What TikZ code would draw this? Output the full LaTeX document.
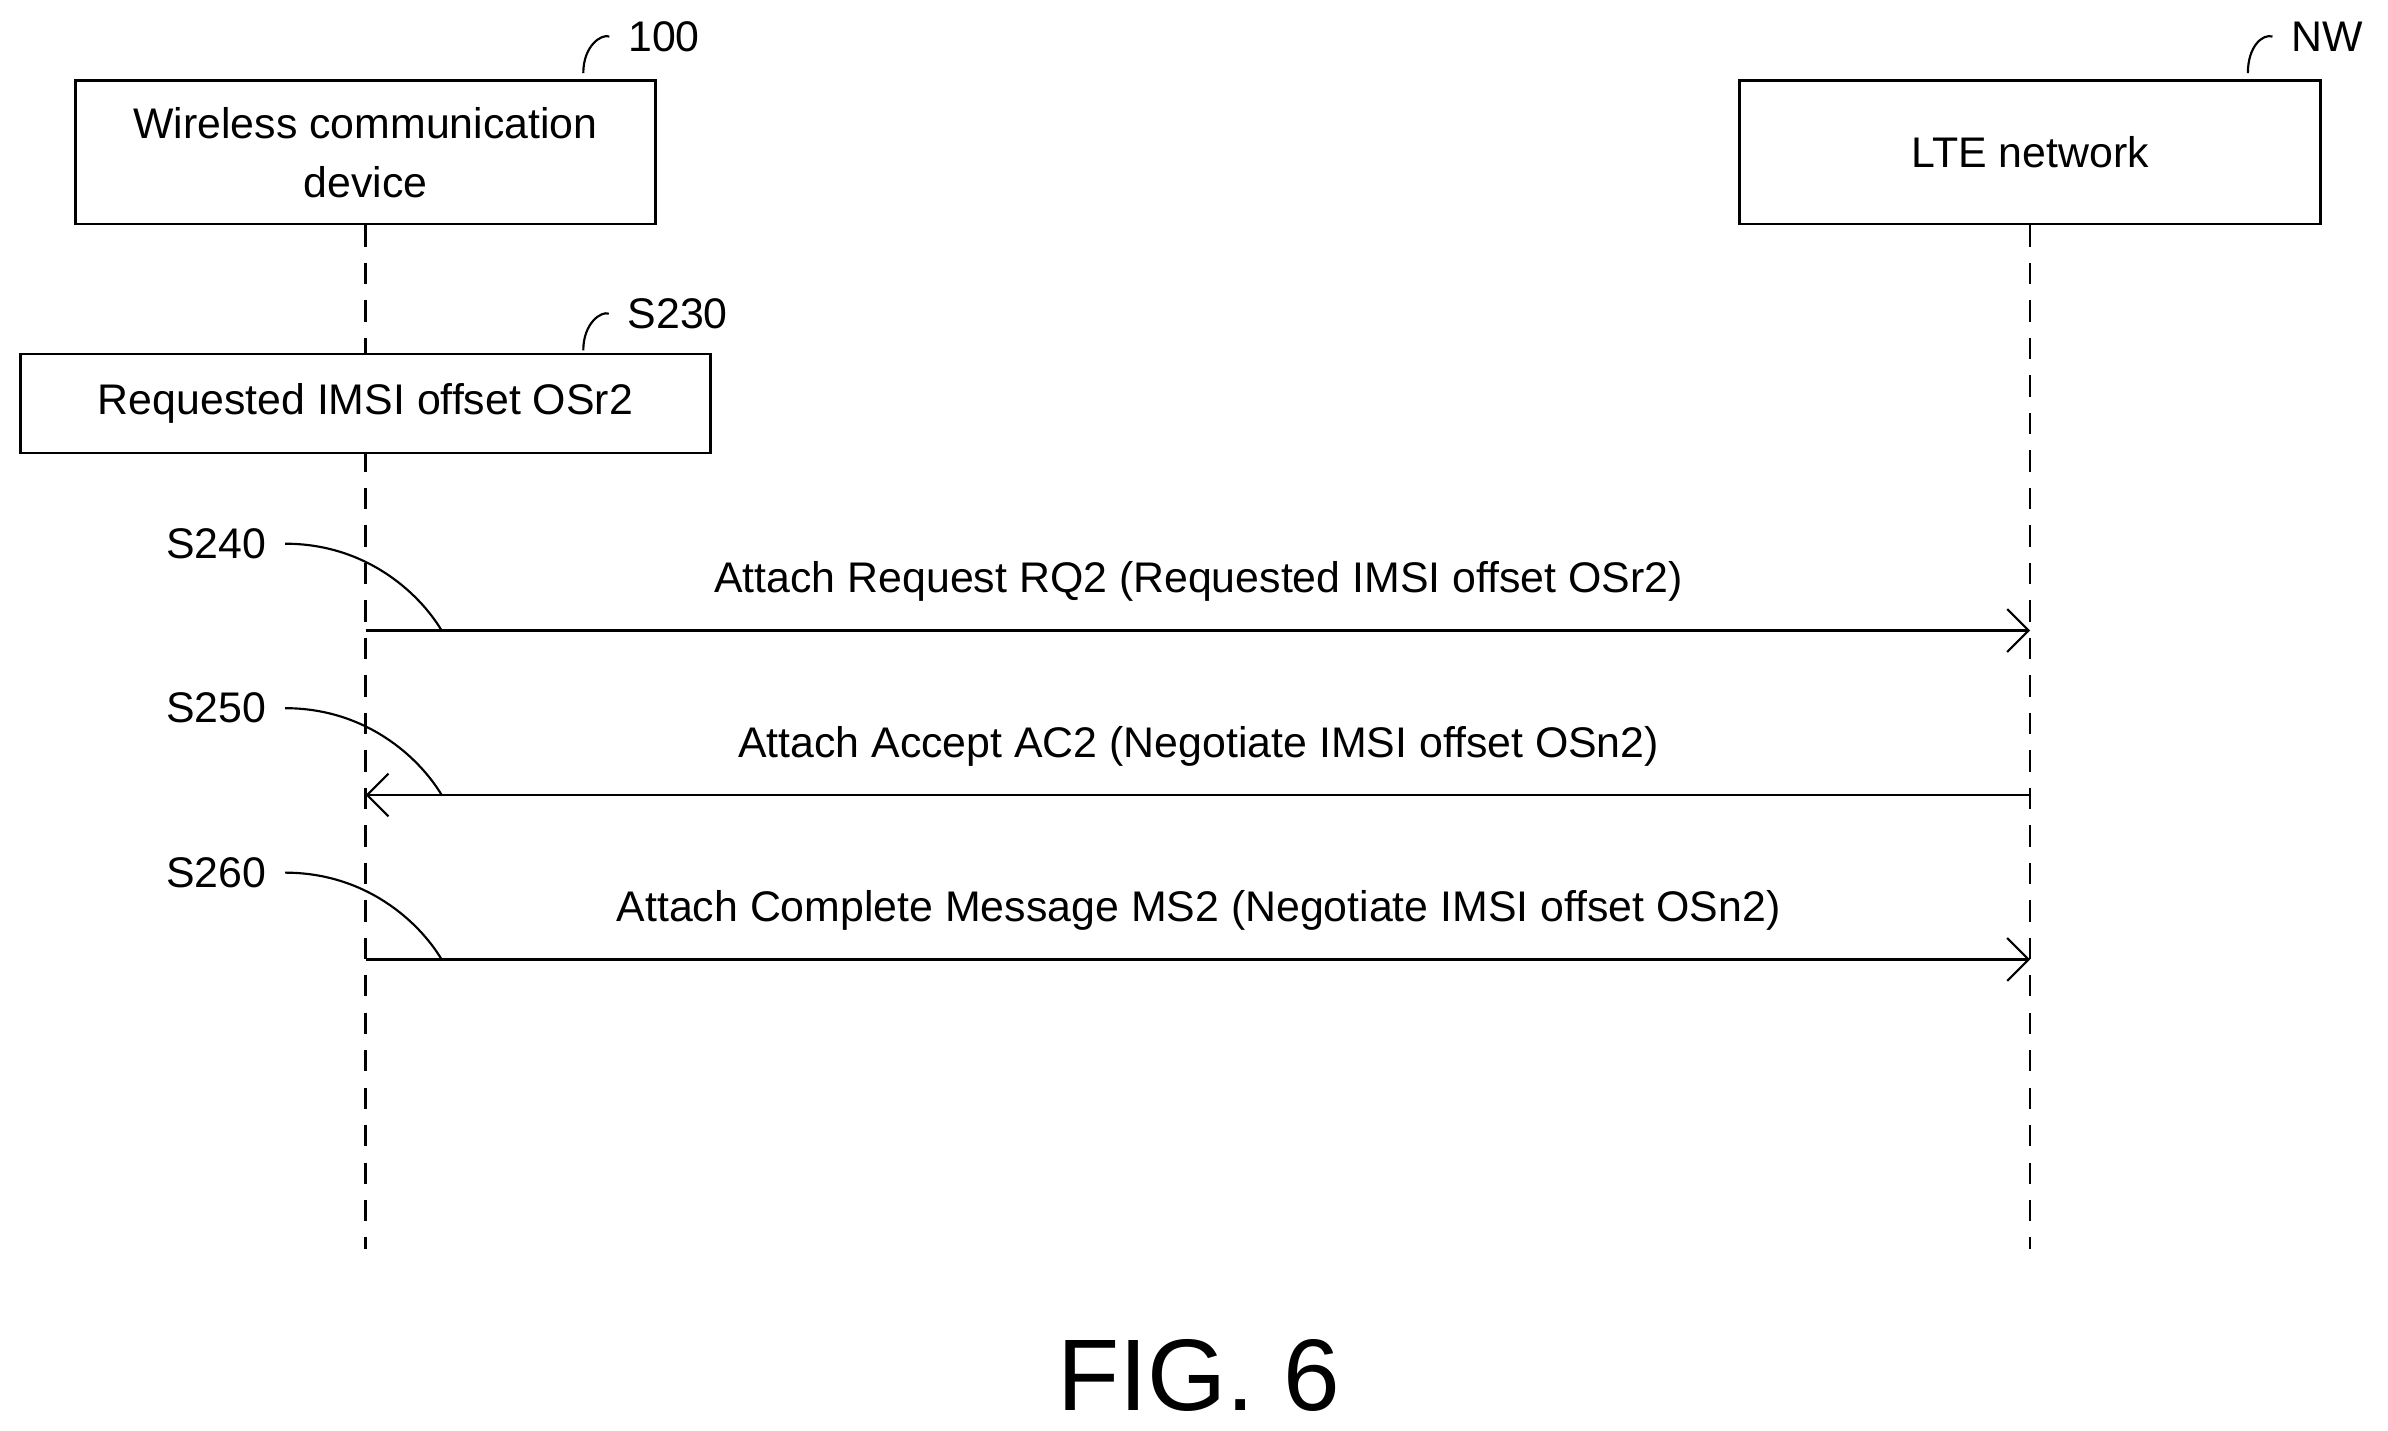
\documentclass[tikz,border=0pt]{standalone}
\usepackage{fontspec}
\setmainfont{Liberation Sans}
\usetikzlibrary{arrows.meta}
\begin{document}
\begin{tikzpicture}[x=0.01cm,y=-0.01cm,
    box/.style={draw, line width=0.5pt, inner sep=0pt, minimum width=3.81cm, minimum height=0.94cm, align=center, font=\fontsize{8}{11}\selectfont},
    lbl/.style={font=\fontsize{8}{10}\selectfont},
    msg/.style={-{Straight Barb[length=4pt,width=8pt]}, line width=0.4pt},
    life/.style={dashed, dash pattern=on 4pt off 3pt, line width=0.4pt},
    lead/.style={line width=0.4pt}]
    \useasboundingbox (0,0) rectangle (1568,939);
    % participants
    \node[box] (UE) at (240,100) {Wireless communication\\device};
    \node[box] (NW) at (1333,100) {LTE network};
    \node[lbl] (L100) at (436,24) {100};
    \node[lbl] (LNW) at (1528,24) {NW};
    \draw[lead] (L100.west) .. controls (395,22) and (383,30) .. (383,48);
    \draw[lead] (LNW.west) .. controls (1486,22) and (1476,30) .. (1476,48);
    % lifelines
    \coordinate (UEend) at (240,820);
    \coordinate (NWend) at (1333,820);
    \draw[life] (UE.south) -- (UEend);
    \draw[life] (NW.south) -- (NWend);
    % step S230
    \node[box, fill=white, minimum width=4.53cm, minimum height=0.65cm] (OS) at (240,265) {Requested IMSI offset OSr2};
    \node[lbl] (S230) at (445,206) {S230};
    \draw[lead] (S230.west) .. controls (395,204) and (383,212) .. (383,230);
    % messages
    \foreach \y/\s/\p/\q/\txt in {414/S240/a/b/Attach Request RQ2 (Requested IMSI offset OSr2),
                                  522/S250/b/a/Attach Accept AC2 (Negotiate IMSI offset OSn2),
                                  630/S260/a/b/Attach Complete Message MS2 (Negotiate IMSI offset OSn2)} {
        \coordinate (a\s) at (240,\y);
        \coordinate (b\s) at (1333,\y);
        \draw[msg] (\p\s) -- (\q\s);
        \node[lbl] (t\s) at (787,\y-32) {\txt};
        \node[lbl] (\s) at (142,\y-57) {\s};
        \coordinate (f\s) at (290,\y);
        \draw[lead] (\s.east) .. controls (240,\y-57) and (275,\y-25) .. (f\s);
    }
    \node[font=\fontsize{19}{22}\selectfont] (FIG) at (787,903) {FIG. 6};
\end{tikzpicture}
\end{document}
